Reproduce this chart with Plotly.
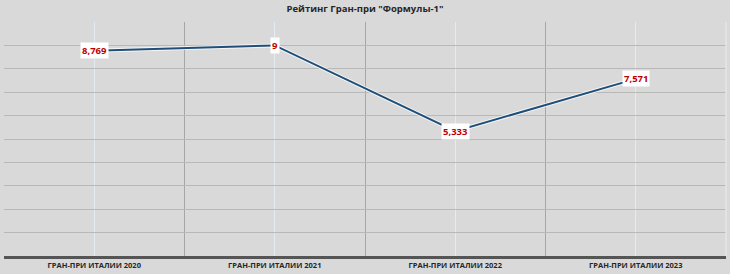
import plotly.graph_objects as go

categories = ["ГРАН-ПРИ ИТАЛИИ 2020", "ГРАН-ПРИ ИТАЛИИ 2021", "ГРАН-ПРИ ИТАЛИИ 2022", "ГРАН-ПРИ ИТАЛИИ 2023"]
ratings = [8.769, 9, 5.333, 7.571]
title_text = 'Рейтинг Гран-при "Формулы-1"'

xpos = list(range(len(categories)))
labels = [f"{v:g}".replace(".", ",") for v in ratings]

fig = go.Figure()
# soft light glow under the line
fig.add_trace(go.Scatter(x=xpos, y=ratings, mode="lines",
                         line=dict(color="rgba(255,255,255,0.75)", width=4),
                         hoverinfo="skip", showlegend=False))
fig.add_trace(go.Scatter(x=xpos, y=ratings, mode="lines",
                         line=dict(color="#1f4e79", width=2),
                         showlegend=False))

for x, y, t in zip(xpos, ratings, labels):
    fig.add_annotation(x=x, y=y, text=f"<b>{t}</b>", showarrow=False,
                       font=dict(family="Open Sans", size=9.5, color="#c00000"),
                       bgcolor="white", borderpad=1)

fig.update_layout(
    width=730, height=274,
    margin=dict(l=4, r=4, t=22, b=18),
    paper_bgcolor="#d9d9d9", plot_bgcolor="#d9d9d9",
    title=dict(text=f"<b>{title_text}</b>", x=0.5, xanchor="center", y=0.98, yanchor="top",
               font=dict(family="Open Sans", size=9.5, color="#262626")),
    xaxis=dict(range=[-0.5, len(categories) - 0.5], tickvals=xpos,
               ticktext=[f"<b>{c}</b>" for c in categories],
               tickfont=dict(family="Open Sans", size=7.5, color="#262626"),
               showgrid=True, gridcolor="#e4ebf2", gridwidth=1,
               minor=dict(tickvals=[0.5, 1.5, 2.5], showgrid=True, gridcolor="#a6a6a6", gridwidth=1),
               showline=True, linecolor="#555555", linewidth=3, zeroline=False,
               ticks="", ticklen=0, fixedrange=True),
    yaxis=dict(range=[0, 10], dtick=1, showticklabels=False, showgrid=True,
               gridcolor="#b8b8b8", gridwidth=1, zeroline=False, showline=False,
               fixedrange=True),
)
fig.add_shape(type="line", xref="paper", yref="paper", x0=1, x1=1, y0=0, y1=1,
              line=dict(color="#ececec", width=1))

fig.write_html("out.html")
